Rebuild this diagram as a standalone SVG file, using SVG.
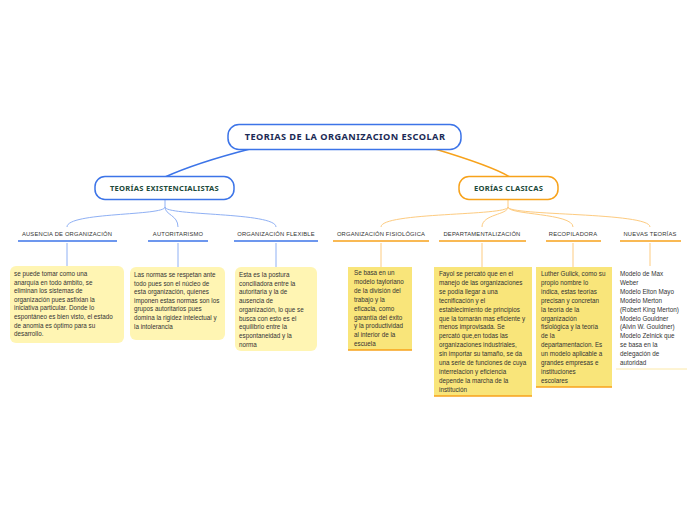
<svg xmlns="http://www.w3.org/2000/svg" width="696" height="520" viewBox="0 0 696 520">
<style>
.root{fill:#fff;stroke:#3C74E8;stroke-width:1.5}
.rt{font-family:"Noto Sans","Liberation Sans",sans-serif;font-weight:bold;font-size:9.2px;fill:#1B2A55;text-anchor:middle;letter-spacing:0.45px}
.sub{fill:#fff;stroke-width:1.5}
.st{font-family:"Noto Sans","Liberation Sans",sans-serif;font-weight:bold;font-size:7.6px;fill:#1D4A3A;text-anchor:middle;letter-spacing:0.25px}
.lb{font-family:"Liberation Sans",Arial,sans-serif;font-size:5.8px;fill:#333;text-anchor:middle;letter-spacing:0.2px}
.nt{font-family:"Liberation Sans",Arial,sans-serif;font-size:6.3px;fill:#333}
.bl{stroke:#3C74E8;fill:none}
.blc{stroke:#8FB0F4;fill:none;stroke-width:1}
.or{stroke:#F7A21B;fill:none}
.orc{stroke:#FDCB80;fill:none;stroke-width:1}
.n1{fill:#FFF5B3}
.n2{fill:#F9E57A}
</style>
<g id="connectors">
<path class="bl" stroke-width="1.5" d="M250,149 C215,158 185,168 165,177"/>
<path class="or" stroke-width="1.5" d="M435,149 C465,158 495,168 510,177"/>
<path class="blc" d="M165,200 L165,207 C165,216 67,212 67,227"/>
<path class="blc" d="M165,207 C165,215 178,215 178,227"/>
<path class="blc" d="M165,207 C165,216 276,212 276,227"/>
<path class="orc" d="M508,200 L508,207 C508,216 381,212 381,227"/>
<path class="orc" d="M508,207 C508,215 482,214 482,227"/>
<path class="orc" d="M508,207 C508,215 573,213 573,227"/>
<path class="orc" d="M508,207 C508,216 650,212 650,227"/>
<path class="blc" d="M67,243 V266 M178,243 V267 M276,243 V267"/>
<path class="orc" d="M381,243 V267 M482,243 V267 M573,243 V267 M650,243 V266"/>
</g>
<g id="root">
<rect class="root" x="228" y="124.5" width="233" height="25" rx="11"/>
<text class="rt" x="345" y="140.3">TEORIAS DE LA ORGANIZACION ESCOLAR</text>
</g>
<g id="existencialistas">
<rect class="sub" stroke="#3C74E8" x="95" y="176.5" width="139" height="23" rx="10"/>
<text class="st" x="164.5" y="190.7">TEORÍAS EXISTENCIALISTAS</text>
</g>
<g id="clasicas">
<rect class="sub" stroke="#F7A21B" x="459" y="176.5" width="99" height="23" rx="10"/>
<text class="st" x="508.5" y="190.7">EORÍAS CLASICAS</text>
</g>
<g id="ausencia">
<text class="lb" x="67" y="236">AUSENCIA DE ORGANIZACIÓN</text>
<line class="bl" stroke-width="1.5" x1="18" y1="241" x2="117" y2="241"/>
</g>
<g id="autoritarismo">
<text class="lb" x="178" y="236">AUTORITARISMO</text>
<line class="bl" stroke-width="1.5" x1="148" y1="241" x2="208" y2="241"/>
</g>
<g id="flexible">
<text class="lb" x="276" y="236">ORGANIZACIÓN FLEXIBLE</text>
<line class="bl" stroke-width="1.5" x1="234" y1="241" x2="318" y2="241"/>
</g>
<g id="fisiologica">
<text class="lb" x="381" y="236">ORGANIZACIÓN FISIOLÓGICA</text>
<line class="or" stroke-width="1.5" x1="333" y1="241" x2="429" y2="241"/>
</g>
<g id="departamentalizacion">
<text class="lb" x="482" y="236">DEPARTAMENTALIZACIÓN</text>
<line class="or" stroke-width="1.5" x1="439" y1="241" x2="526" y2="241"/>
</g>
<g id="recopiladora">
<text class="lb" x="573" y="236">RECOPILADORA</text>
<line class="or" stroke-width="1.5" x1="546" y1="241" x2="601" y2="241"/>
</g>
<g id="nuevas">
<text class="lb" x="650" y="236">NUEVAS TEORÍAS</text>
<line class="or" stroke-width="1.5" x1="620" y1="241" x2="681" y2="241"/>
</g>
<g id="note-ausencia">
<rect class="n1" x="10" y="266" width="114" height="77" rx="6"/>
<text class="nt" x="14" y="276">
<tspan x="14" dy="0">se puede  tomar como una</tspan>
<tspan x="14" dy="8.6">anarquía  en  todo ámbito, se</tspan>
<tspan x="14" dy="8.6">eliminan los sistemas de</tspan>
<tspan x="14" dy="8.6">organización pues asfixian la</tspan>
<tspan x="14" dy="8.6">iniciativa particular. Donde lo</tspan>
<tspan x="14" dy="8.6">espontáneo es bien visto, el estado</tspan>
<tspan x="14" dy="8.6">de anomia es óptimo para su</tspan>
<tspan x="14" dy="8.6">desarrollo.</tspan>
</text>
</g>
<g id="note-autoritarismo">
<rect class="n1" x="130" y="267" width="95" height="73" rx="6"/>
<text class="nt" x="134" y="277">
<tspan x="134" dy="0">Las  normas  se respetan ante</tspan>
<tspan x="134" dy="8.6">todo pues son el núcleo de</tspan>
<tspan x="134" dy="8.6">esta organización, quienes</tspan>
<tspan x="134" dy="8.6">imponen estas normas son los</tspan>
<tspan x="134" dy="8.6">grupos autoritarios pues</tspan>
<tspan x="134" dy="8.6">domina la rigidez intelectual y</tspan>
<tspan x="134" dy="8.6">la intolerancia</tspan>
</text>
</g>
<g id="note-flexible">
<rect class="n1" x="235" y="267" width="82" height="84" rx="6"/>
<text class="nt" x="239" y="277">
<tspan x="239" dy="0">Esta es la postura</tspan>
<tspan x="239" dy="8.7">conciliadora entre la</tspan>
<tspan x="239" dy="8.7">autoritaria  y la de</tspan>
<tspan x="239" dy="8.7">ausencia de</tspan>
<tspan x="239" dy="8.7">organización, lo que se</tspan>
<tspan x="239" dy="8.7">busca con  esto es el</tspan>
<tspan x="239" dy="8.7">equilibrio entre  la</tspan>
<tspan x="239" dy="8.7">espontaneidad y  la</tspan>
<tspan x="239" dy="8.7">norma</tspan>
</text>
</g>
<g id="note-fisiologica">
<rect class="n2" x="348" y="267" width="64" height="83"/>
<line class="or" stroke-width="1.5" x1="348" y1="350" x2="412" y2="350"/>
<text class="nt" x="354" y="275">
<tspan x="354" dy="0">Se basa  en un</tspan>
<tspan x="354" dy="8.9">modelo tayloriano</tspan>
<tspan x="354" dy="8.9">de la división del</tspan>
<tspan x="354" dy="8.9">trabajo y la</tspan>
<tspan x="354" dy="8.9">eficacia, como</tspan>
<tspan x="354" dy="8.9">garantía del éxito</tspan>
<tspan x="354" dy="8.9">y la productividad</tspan>
<tspan x="354" dy="8.9">al interior de la</tspan>
<tspan x="354" dy="8.9">escuela</tspan>
</text>
</g>
<g id="note-departamentalizacion">
<rect class="n2" x="434" y="267" width="98" height="129"/>
<line class="or" stroke-width="1.5" x1="434" y1="396" x2="532" y2="396"/>
<text class="nt" x="439" y="276">
<tspan x="439" dy="0">Fayol se percató que en el</tspan>
<tspan x="439" dy="8.9">manejo de las organizaciones</tspan>
<tspan x="439" dy="8.9">se podía llegar a una</tspan>
<tspan x="439" dy="8.9">tecnificación y el</tspan>
<tspan x="439" dy="8.9">establecimiento de principios</tspan>
<tspan x="439" dy="8.9">que la tornarán mas eficiente y</tspan>
<tspan x="439" dy="8.9">menos improvisada. Se</tspan>
<tspan x="439" dy="8.9">percató que,en todas las</tspan>
<tspan x="439" dy="8.9">organizaciones industriales,</tspan>
<tspan x="439" dy="8.9">sin importar su tamaño, se da</tspan>
<tspan x="439" dy="8.9">una serie de funciones de cuya</tspan>
<tspan x="439" dy="8.9">interrelacion y eficiencia</tspan>
<tspan x="439" dy="8.9">depende la marcha de la</tspan>
<tspan x="439" dy="8.9">institución</tspan>
</text>
</g>
<g id="note-recopiladora">
<rect class="n2" x="536" y="267" width="76" height="120"/>
<line class="or" stroke-width="1.5" x1="536" y1="387" x2="612" y2="387"/>
<text class="nt" x="541" y="276">
<tspan x="541" dy="0">Luther Gulick,  como su</tspan>
<tspan x="541" dy="8.9">propio nombre lo</tspan>
<tspan x="541" dy="8.9">indica, estas teorías</tspan>
<tspan x="541" dy="8.9">precisan y concretan</tspan>
<tspan x="541" dy="8.9">la teoría de la</tspan>
<tspan x="541" dy="8.9">organización</tspan>
<tspan x="541" dy="8.9">fisiológica y la  teoría</tspan>
<tspan x="541" dy="8.9">de la</tspan>
<tspan x="541" dy="8.9">departamentacion. Es</tspan>
<tspan x="541" dy="8.9">un modelo aplicable a</tspan>
<tspan x="541" dy="8.9">grandes empresas e</tspan>
<tspan x="541" dy="8.9">instituciones</tspan>
<tspan x="541" dy="8.9">escolares</tspan>
</text>
</g>
<g id="note-nuevas">
<line stroke="#FCE9A8" stroke-width="1" x1="616" y1="369" x2="687" y2="369"/>
<text class="nt" x="620" y="276">
<tspan x="620" dy="0">Modelo de Max</tspan>
<tspan x="620" dy="8.9">Weber</tspan>
<tspan x="620" dy="8.9">Modelo Elton Mayo</tspan>
<tspan x="620" dy="8.9">Modelo Merton</tspan>
<tspan x="620" dy="8.9">(Robert King Merton)</tspan>
<tspan x="620" dy="8.9">Modelo Gouldner</tspan>
<tspan x="620" dy="8.9">(Alvin W. Gouldner)</tspan>
<tspan x="620" dy="8.9">Modelo Zelnick que</tspan>
<tspan x="620" dy="8.9">se basa en la</tspan>
<tspan x="620" dy="8.9">delegación de</tspan>
<tspan x="620" dy="8.9">autoridad</tspan>
</text>
</g>
</svg>
